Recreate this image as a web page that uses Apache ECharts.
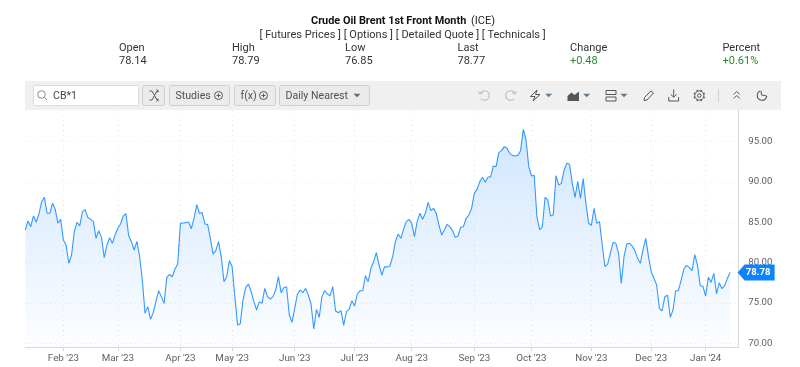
<!DOCTYPE html>
<html><head><meta charset="utf-8">
<style>html,body{margin:0;padding:0;background:#fff}#c{width:800px;height:367px}</style>
<script src="https://cdn.jsdelivr.net/npm/echarts@6/dist/echarts.min.js"></script>
</head><body><div id="c"></div>
<script>
const tickIndex=[14,34,57,76,99,121,142,165,186,208,230,250];
const tickLabels=["Feb '23","Mar '23","Apr '23","May '23","Jun '23","Jul '23","Aug '23","Sep '23","Oct '23","Nov '23","Dec '23","Jan '24"];
const yTicks=[70,75,80,85,90,95];
const prices=[
84.05,85.17,84.46,85.79,85.04,86.03,87.56,88.10,86.12,86.12,87.36,86.61,84.88,85.37,82.81,82.15,79.92,80.95,83.84,85.00,
84.55,86.32,86.57,85.58,85.37,85.12,83.02,83.97,83.14,80.62,82.19,83.10,82.40,83.43,84.26,84.79,85.79,86.07,83.31,82.60,
81.57,82.64,80.74,77.85,73.72,74.55,72.98,73.80,75.17,76.53,75.79,74.96,78.18,78.55,78.26,79.21,79.83,84.88,84.92,84.96,
85.04,84.21,85.50,87.19,86.12,86.20,84.79,84.75,83.02,81.07,81.49,82.60,80.74,77.64,78.26,80.25,79.50,75.79,72.27,72.44,
75.37,76.94,77.35,76.40,75.17,74.13,75.17,74.96,76.82,75.79,75.50,75.79,76.61,78.26,76.28,76.90,77.02,73.51,72.60,74.34,
76.12,76.61,76.28,76.82,75.99,74.88,71.78,74.21,73.22,75.79,76.53,76.12,75.91,77.02,74.05,73.80,74.05,72.23,73.93,74.21,
75.29,74.63,76.12,76.53,76.53,78.39,77.64,79.30,80.12,81.24,79.71,78.47,79.50,79.46,79.59,80.74,82.60,83.55,83.02,84.13,
85.08,85.37,84.88,83.22,85.08,86.12,85.37,86.12,87.48,86.45,86.73,86.12,84.67,83.43,84.05,84.75,84.46,83.97,83.14,83.31,
84.38,84.46,85.50,85.91,86.73,88.59,89.09,90.04,90.58,89.96,90.58,90.66,91.98,91.90,93.64,93.88,94.38,94.17,93.55,93.30,
93.22,93.30,93.88,96.53,95.21,91.90,90.74,90.83,85.70,84.05,84.46,88.10,87.77,85.79,85.91,90.78,89.63,89.83,91.49,92.31,
92.19,89.83,88.10,90.04,87.97,90.41,87.35,84.88,84.63,86.73,84.88,85.08,82.19,79.50,79.83,81.16,82.52,82.40,81.16,77.44,
80.74,82.31,82.40,82.07,81.49,80.54,79.92,81.65,83.02,80.74,78.88,78.06,77.23,74.34,74.01,75.79,75.95,73.22,74.13,76.53,
76.53,77.85,79.21,79.67,79.38,79.01,80.99,79.71,77.15,77.07,75.87,78.18,77.56,78.68,76.12,77.52,76.78,77.15,78.06,78.78];
const slots=263;
const categories=Array.from({length:slots},(_,i)=>{const k=tickIndex.indexOf(i);return k>=0?tickLabels[k]:''});
const isTick=i=>tickIndex.indexOf(i)>=0;
const last=prices.length-1;

const F='Roboto';
const T=(x,y,s,o={})=>({type:'text',x,y:y+0.5,silent:true,style:Object.assign({text:s,font:`${o.w||400} ${o.size||11}px ${F}`,fill:o.c||'#333',textVerticalAlign:'middle',textAlign:o.a||'left'},{})});
const R=(x,y,w,h,fill,stroke,r)=>({type:'rect',silent:true,shape:{x,y,width:w,height:h,r:r||0},style:{fill,stroke:stroke||null,lineWidth:1}});
const ic='#5a5a5a';
const L=(pts,c,w)=>({type:'polyline',silent:true,shape:{points:pts},style:{fill:null,stroke:c||ic,lineWidth:w||1}});
const C=(x,y,r,c,w)=>({type:'circle',silent:true,shape:{cx:x,cy:y,r},style:{fill:null,stroke:c||ic,lineWidth:w||1}});
const A=(x,y,r,s,e,c,w)=>({type:'arc',silent:true,shape:{cx:x,cy:y,r,startAngle:s,endAngle:e},style:{fill:null,stroke:c||ic,lineWidth:w||1.1}});
const P=(pts,fill)=>({type:'polygon',silent:true,shape:{points:pts},style:{fill}});
const caret=(x,y,c)=>P([[x-3.5,y-1.8],[x+3.5,y-1.8],[x,y+1.8]],c||'#5f7a96');
const plus=(x,y)=>[C(x,y,4),L([[x-2,y],[x+2,y]]),L([[x,y-2],[x,y+2]])];
const gearTeeth=(x,y)=>[0,1,2,3,4,5,6,7].map(k=>{const a=k*Math.PI/4+Math.PI/8;return L([[x+4.6*Math.cos(a),y+4.6*Math.sin(a)],[x+5.9*Math.cos(a),y+5.9*Math.sin(a)]],'#555',1.5)});

const g=[
 T(311,21,'Crude Oil Brent 1st Front Month',{w:700,size:10.9,c:'#111'}),
 T(471,21,'(ICE)',{size:11,c:'#222'}),
 T(259.5,34.5,'[ Futures Prices ] [ Options ] [ Detailed Quote ] [ Technicals ]',{size:11}),
 T(119,48,'Open'),T(119,61,'78.14'),
 T(232,48,'High'),T(232,61,'78.79'),
 T(345,48,'Low'),T(345,61,'76.85'),
 T(457.5,48,'Last'),T(457.5,61,'78.77'),
 T(570,48,'Change'),T(570,61,'+0.48',{c:'#2b8a2b'}),
 T(722.5,48,'Percent'),T(722.5,61,'+0.61%',{c:'#2b8a2b'}),
 R(25,81,756,29,'#f0f0f0'),
 R(33.5,85.5,105,20,'#fff','#dcdcdc',1),
 C(41.5,94.5,3.8,'#888'),L([[44.3,97.3],[47,100]],'#888'),
 T(53,95.5,'CB*1',{size:10.6,c:'#444'}),
 R(142.5,85.5,22,20,'#ebebeb','#cfcfcf',2),
 L([[149.5,91],[152,91],[157,100],[158.5,100]]),L([[149.5,100],[152,100],[157,91],[158.5,91]]),
 L([[156.5,89.5],[158.5,91],[156.5,92.5]]),L([[156.5,98.5],[158.5,100],[156.5,101.5]]),
 R(169.5,85.5,60,20,'#ebebeb','#cfcfcf',2),
 T(175.5,95.5,'Studies',{size:10.6,c:'#4f4f4f'}),...plus(218.5,95.5),
 R(234.5,85.5,41,20,'#ebebeb','#cfcfcf',2),
 T(240.5,95.5,'f(x)',{size:10.6,c:'#4f4f4f'}),...plus(263.5,95.5),
 R(279.5,85.5,90,20,'#ebebeb','#cfcfcf',2),
 T(285.5,95.5,'Daily Nearest',{size:10.6,c:'#4f4f4f'}),caret(357,95.5,'#667'),
 A(484.5,95.5,4.8,-2.6,2.4,'#bdbdbd'),L([[478.5,91],[479.9,94],[482.8,93]],'#bdbdbd'),
 A(510.5,95.5,4.8,0.75,5.9,'#bdbdbd'),L([[516.5,91],[515.1,94],[512.2,93]],'#bdbdbd'),
 L([[537,90],[530.5,96.5],[535,96.5],[533,101],[540,94.5],[535.5,94.5],[537,90]],'#555'),
 caret(548.7,95.5),
 P([[567.5,101],[567.5,96],[571.5,92.5],[574.5,95],[579,91.5],[579,101]],'#555'),
 caret(586.7,95.5),
 R(606,90.5,10,4,null,'#555'),R(606,97,10,4,null,'#555'),
 caret(624,95.5),
 L([[644,100.5],[644.5,97.5],[651,90.8],[653.5,93],[647,100],[644,100.5]],'#555'),
 L([[673.7,89.5],[673.7,97]],'#555'),L([[670.8,94.4],[673.7,97.2],[676.6,94.4]],'#555'),L([[668.8,97],[668.8,101],[678.6,101],[678.6,97]],'#555'),
 C(699.3,95.5,1.8,'#555'),C(699.3,95.5,4.6,'#555',1),...gearTeeth(699.3,95.5),
 L([[718.5,89],[718.5,102]],'#cfcfcf'),
 L([[733.7,94.5],[736.7,91.5],[739.7,94.5]],'#555'),L([[733.7,98.5],[736.7,95.5],[739.7,98.5]],'#555'),
 A(762,95.5,4.8,0.1,4.3,'#555'),L([[761,90.7],[761.5,95],[766.8,96]],'#555')
];

const chart=echarts.init(document.getElementById('c'),null,{renderer:'canvas'});
const grid='#e6e6e6';
chart.setOption({
 animation:false,backgroundColor:'#fff',
 grid:{left:25.3,top:110,width:713,height:237,containLabel:false},
 xAxis:{type:'category',boundaryGap:false,data:categories,
  axisLine:{show:true,lineStyle:{color:'#d8d8d8',width:1}},
  axisTick:{show:true,length:4,interval:i=>isTick(i),lineStyle:{color:'#d8d8d8'}},
  axisLabel:{show:true,interval:i=>isTick(i),color:'#5f5f5f',fontFamily:F,fontSize:9.8,margin:7,hideOverlap:false},
  splitLine:{show:true,interval:i=>isTick(i),lineStyle:{color:grid,type:[1,4],width:1}}},
 yAxis:{type:'value',position:'right',min:69.55,max:98.92,scale:true,
  axisLine:{show:true,lineStyle:{color:'#d8d8d8',width:1}},
  axisTick:{show:false,customValues:yTicks},
  axisLabel:{show:true,customValues:yTicks,color:'#5f5f5f',fontFamily:F,fontSize:9.6,margin:10,padding:[2,0,0,0],formatter:v=>v.toFixed(2),showMinLabel:true,showMaxLabel:true},
  splitLine:{show:true,lineStyle:{color:grid,type:[1,4],width:1}}},
 series:[{type:'line',data:prices,showSymbol:false,symbol:'none',smooth:false,clip:false,
  lineStyle:{color:'#3399ff',width:1.1},
  areaStyle:{color:{type:'linear',x:0,y:0,x2:0,y2:1,colorStops:[{offset:0,color:'rgba(51,145,255,0.32)'},{offset:1,color:'rgba(51,145,255,0.02)'}]}},
  markPoint:{silent:true,symbol:'path://M0 8L7 0H37V16H7Z',symbolSize:[37,16],symbolKeepAspect:false,symbolOffset:[26,0],
   itemStyle:{color:'#0a84ff'},
   label:{show:true,position:'inside',offset:[2,0],color:'#fff',fontFamily:F,fontWeight:700,fontSize:9.6,formatter:p=>p.value.toFixed(2)},
   data:[{coord:[last,prices[last]],value:prices[last]}]}}],
 graphic:{elements:g}
});
</script></body></html>
